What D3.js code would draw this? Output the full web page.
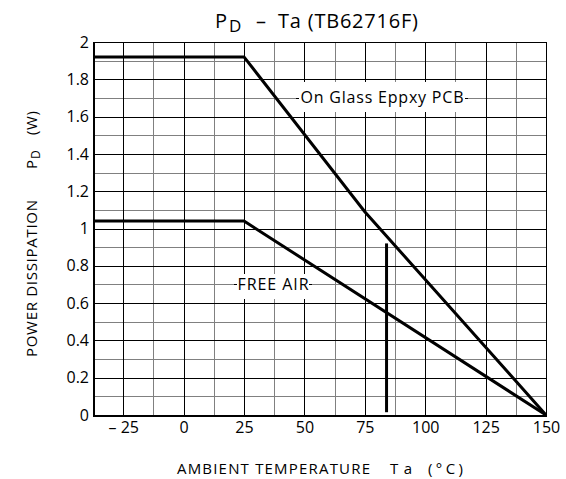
<!DOCTYPE html>
<html>
<head>
<meta charset="utf-8">
<script src="https://cdn.jsdelivr.net/npm/d3@7"></script>
<style>
  html, body { margin: 0; padding: 0; }
</style>
</head>
<body>
<svg id="chart" width="566" height="479" font-family="Open Sans, sans-serif"></svg>
<script>
/* Achsen-Ticks */
var temp_ticks  = [-25, 0, 25, 50, 75, 100, 125, 150];
var power_ticks = [0, 0.2, 0.4, 0.6, 0.8, 1, 1.2, 1.4, 1.6, 1.8, 2];

/* On Glass Epoxy PCB */
var glass_temp  = [-37.5, 25, 75, 150];
var glass_power = [1.92, 1.92, 1.09, 0];

/* Free Air */
var air_temp  = [-37.5, 25, 150];
var air_power = [1.04, 1.04, 0];

/* senkrechte Markierung */
var mark_temp  = [84, 84];
var mark_power = [0.015, 0.92];

var m_left = 93, m_right = 546, m_top = 42, m_bottom = 415;

var svg = d3.select('#chart');

var x = d3.scaleLinear().domain([-37.5, 150]).range([m_left, m_right]);
var y = d3.scaleLinear().domain([0, 2]).range([m_bottom, m_top]);

/* Gitter: alle 12.5 Grad bzw. 0.1 W, jede zweite Linie kräftiger */
var grid_temp  = d3.range(-37.5, 150.01, 12.5);
var grid_power = d3.range(0, 2.001, 0.1);

var p_major = d3.path(), p_minor = d3.path();

grid_temp.forEach(function(d, i) {
    var p = (i % 2 === 1) ? p_major : p_minor;
    var px = Math.round(x(d)) + 0.5;
    p.moveTo(px, m_bottom);
    p.lineTo(px, m_top);
});
grid_power.forEach(function(d, i) {
    var p = (i % 2 === 0) ? p_major : p_minor;
    var py = Math.round(y(d)) + 0.5;
    p.moveTo(m_left, py);
    p.lineTo(m_right, py);
});

svg.append('path')
    .attr('fill', 'none').attr('stroke', '#808080').attr('stroke-width', 1)
    .attr('d', p_minor.toString());
svg.append('path')
    .attr('fill', 'none').attr('stroke', '#000').attr('stroke-width', 1)
    .attr('d', p_major.toString());

/* Rahmen: links und unten kräftiger */
svg.append('line')
    .attr('x1', m_left).attr('x2', m_right + 1)
    .attr('y1', m_top + 0.5).attr('y2', m_top + 0.5)
    .attr('stroke', '#000').attr('stroke-width', 1);
svg.append('line')
    .attr('x1', m_right + 0.5).attr('x2', m_right + 0.5)
    .attr('y1', m_top).attr('y2', m_bottom)
    .attr('stroke', '#000').attr('stroke-width', 1);
svg.append('line')
    .attr('x1', m_left).attr('x2', m_right + 1)
    .attr('y1', m_bottom + 1).attr('y2', m_bottom + 1)
    .attr('stroke', '#000').attr('stroke-width', 2);
svg.append('line')
    .attr('x1', m_left + 1).attr('x2', m_left + 1)
    .attr('y1', m_top).attr('y2', m_bottom + 1)
    .attr('stroke', '#000').attr('stroke-width', 2);

/* Kurven */
var line_gen = d3.line()
    .x(function(d) { return x(d[0]); })
    .y(function(d) { return y(d[1]); });

[d3.zip(glass_temp, glass_power), d3.zip(air_temp, air_power), d3.zip(mark_temp, mark_power)]
    .forEach(function(pts) {
        svg.append('path')
            .attr('fill', 'none')
            .attr('stroke', '#000')
            .attr('stroke-width', 3)
            .attr('d', line_gen(pts));
    });

/* Beschriftungen mit weißem Hintergrund, die Gitterlinie läuft als Strich weiter */
function label(txt, x0, x1, y0, y1, grid_y, base_y, text_w) {
    svg.append('rect')
        .attr('x', x0).attr('y', y0)
        .attr('width', x1 - x0).attr('height', y1 - y0)
        .attr('fill', '#fff');
    var gy_px = Math.round(grid_y) + 0.5;
    svg.append('line')
        .attr('x1', x0).attr('x2', x0 + 3)
        .attr('y1', gy_px).attr('y2', gy_px)
        .attr('stroke', '#000');
    svg.append('line')
        .attr('x1', x1 - 3).attr('x2', x1)
        .attr('y1', gy_px).attr('y2', gy_px)
        .attr('stroke', '#000');
    svg.append('text')
        .attr('x', (x0 + x1) / 2).attr('y', base_y)
        .attr('text-anchor', 'middle')
        .attr('font-size', 16)
        .attr('textLength', text_w)
        .attr('lengthAdjust', 'spacing')
        .text(txt);
}

label('On Glass Eppxy PCB', 296, 468, 82, 112, y(1.7), 103, 163);
label('FREE AIR', 234, 312, 274, 299, y(0.7), 290, 71);

/* Achsenbeschriftung */
var x_axis = d3.axisBottom(x)
    .tickValues(temp_ticks)
    .tickSize(0)
    .tickPadding(0)
    .tickFormat(function(d) { return d < 0 ? '\u2013 ' + Math.abs(d) : d; });

var gx = svg.append('g')
    .attr('transform', 'translate(0,' + (m_bottom + 4) + ')')
    .call(x_axis);
gx.select('.domain').remove();
gx.attr('font-family', null).attr('font-size', 16);
gx.selectAll('text').attr('fill', '#000').attr('dy', '0.9em');

var y_axis = d3.axisLeft(y)
    .tickValues(power_ticks)
    .tickSize(0)
    .tickPadding(0)
    .tickFormat(function(d) { return d3.format('~g')(d); });

var gy = svg.append('g')
    .attr('transform', 'translate(' + (m_left - 4) + ',0)')
    .call(y_axis);
gy.select('.domain').remove();
gy.attr('font-family', null).attr('font-size', 16);
gy.selectAll('text').attr('fill', '#000');

/* Hilfsfunktion: einzelnes Textstück, optional auf Breite gezogen */
function put_text(parent, txt, px, py, size, w) {
    var t = parent.append('text')
        .attr('x', px).attr('y', py)
        .attr('font-size', size)
        .text(txt);
    if (w) t.attr('textLength', w).attr('lengthAdjust', 'spacing');
    return t;
}

/* Titel */
put_text(svg, 'P', 215, 28, 20);
put_text(svg, 'D', 229, 32, 17);
put_text(svg, '\u2013', 256, 28, 20);
put_text(svg, 'Ta (TB62716F)', 278, 28, 20, 140);

/* X-Achsentitel */
put_text(svg, 'AMBIENT  TEMPERATURE', 177, 474, 15, 193);
put_text(svg, 'Ta', 390, 474, 15, 22);
put_text(svg, '(\u00B0C)', 428, 474, 15, 35);

/* Y-Achsentitel */
var yt = svg.append('g')
    .attr('transform', 'translate(37,357) rotate(-90)');
put_text(yt, 'POWER  DISSIPATION', 0, 0, 15, 157);
put_text(yt, 'P', 188, 0, 15);
put_text(yt, 'D', 198, 3, 12);
put_text(yt, '(W)', 222, 0, 15, 24);
</script>
</body>
</html>
